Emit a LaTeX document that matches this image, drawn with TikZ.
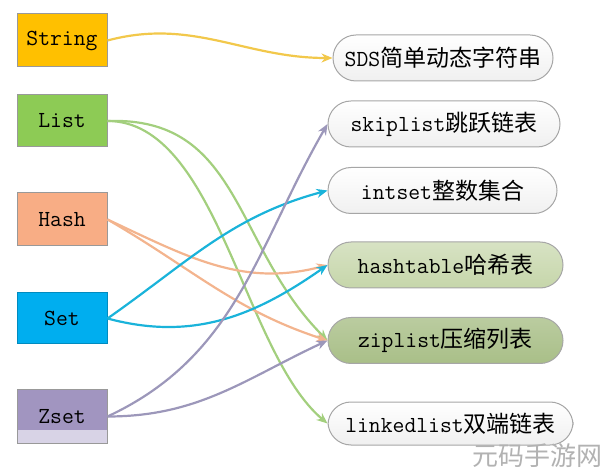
\documentclass[tikz,border=0pt]{standalone}
\usepackage{fontspec}
\newfontfamily\cjk{Noto Sans CJK SC}
\usetikzlibrary{arrows.meta}
\definecolor{strcol}{HTML}{FFC000}
\definecolor{listcol}{HTML}{8DCB55}
\definecolor{hashcol}{HTML}{F8AD85}
\definecolor{setcol}{HTML}{00AEEF}
\definecolor{zsetcol}{HTML}{A195C0}
\definecolor{zsetlight}{HTML}{D8D3E6}
\definecolor{yline}{HTML}{F2C84B}
\definecolor{gline}{HTML}{A3CF7E}
\definecolor{oline}{HTML}{F3B48E}
\definecolor{cline}{HTML}{1AB3DA}
\definecolor{pline}{HTML}{9C97BA}
\definecolor{htcol}{HTML}{C6D6AA}
\definecolor{zlcol}{HTML}{A9BF88}
\begin{document}
\begin{tikzpicture}[x=0.5pt,y=-0.5pt,font=\fontsize{11.5}{13}\selectfont\ttfamily]
\tikzstyle{type}=[draw=gray!80, line width=0.5pt, minimum width=45pt, inner sep=0pt]
\tikzstyle{impl}=[draw=gray!70, line width=0.5pt, rounded corners=11.5pt, minimum height=23pt, inner sep=0pt, top color=white, bottom color=gray!12]
\tikzstyle{link}=[line width=1.1pt, -{Stealth[length=5.5pt,width=4.5pt]}]
\useasboundingbox (0,0) rectangle (600,470);

% data types
\node[type, fill=strcol, minimum height=26.5pt] (String) at (62,40.5) {String};
\node[type, fill=listcol, minimum height=26pt] (List) at (62,121) {List};
\node[type, fill=hashcol, minimum height=26.5pt] (Hash) at (62,219.5) {Hash};
\node[type, fill=setcol, draw=setcol!80!black, minimum height=25.5pt] (Set) at (62,318.5) {Set};
\node[type, fill=zsetcol, minimum height=26.5pt,
  path picture={\fill[zsetlight] ([yshift=6.5pt]path picture bounding box.south west) rectangle (path picture bounding box.south east);}]
  (Zset) at (62,416.5) {Zset};

% encodings
\node[impl, minimum width=110pt] (SDS) at (443,58) {SDS{\cjk 简单动态字符串}};
\node[impl, minimum width=116pt] (Skip) at (444,124) {skiplist{\cjk 跳跃链表}};
\node[impl, minimum width=114.5pt] (Int) at (442.5,190.5) {intset{\cjk 整数集合}};
\node[impl, minimum width=117.5pt, top color=htcol!70!white, bottom color=htcol] (HT) at (445.5,265) {hashtable{\cjk 哈希表}};
\node[impl, minimum width=117.5pt, top color=zlcol!80!white, bottom color=zlcol] (ZL) at (445.5,340.5) {ziplist{\cjk 压缩列表}};
\node[impl, minimum width=122.5pt, minimum height=21.5pt] (Linked) at (450.5,423.5) {linkedlist{\cjk 双端链表}};

% watermark
\node[text=gray!60, font=\fontsize{13}{14}\selectfont\cjk] (mark) at (537,456) {元码手游网};

\draw[link, yline] (String.east) to[out=15, in=180] (SDS.west);
\draw[link, gline] (List.east) to[out=2, in=135, looseness=1.1] (ZL.west);
\draw[link, gline] (List.east) to[out=0, in=140, looseness=0.75] (Linked.west);
\draw[link, oline] (Hash.east) to[out=-25, in=195] (HT.west);
\draw[link, oline] (Hash.east) to[out=-30, in=162] (ZL.west);
\draw[link, cline] (Set.east) to[out=35, in=195] (Int.west);
\draw[link, cline] (Set.east) to[out=-15, in=215] (HT.west);
\draw[link, pline] (Zset.east) to[out=25, in=240] (Skip.west);
\draw[link, pline] (Zset.east) to[out=0, in=205] (ZL.west);
\end{tikzpicture}
\end{document}
